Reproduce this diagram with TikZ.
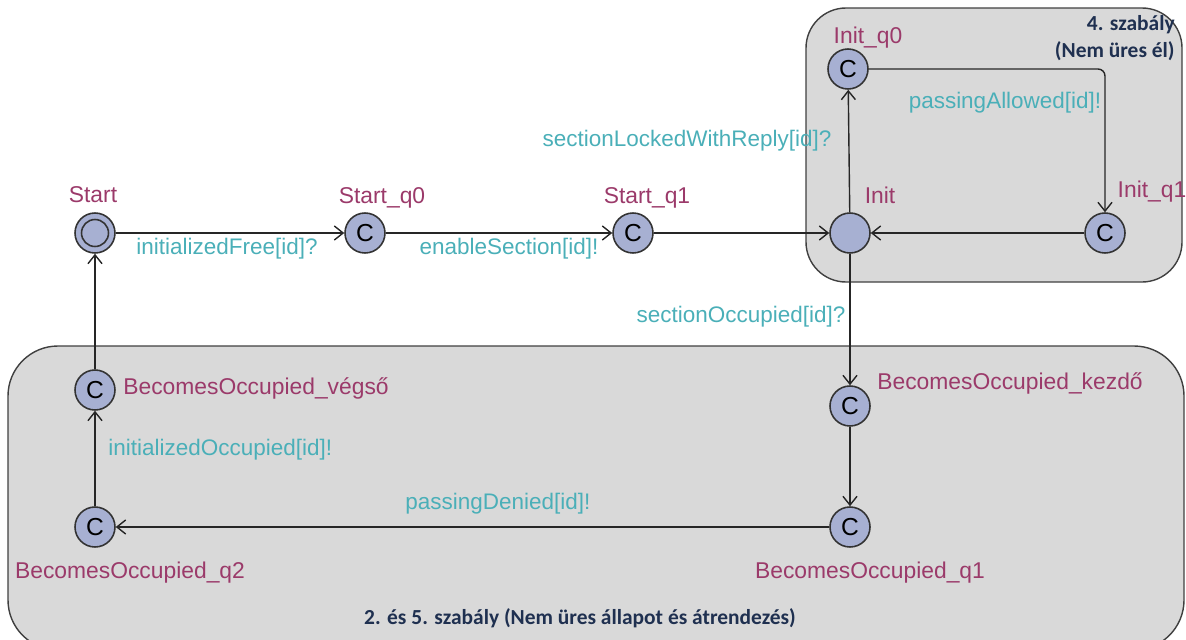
\documentclass[tikz,border=0pt]{standalone}
\usepackage{fontspec}
\setmainfont{Liberation Sans}
\newfontfamily\rulefont{Carlito}
\usetikzlibrary{arrows.meta}

\definecolor{namecol}{HTML}{9B3A6A}
\definecolor{labelcol}{HTML}{4AAFB8}
\definecolor{locfill}{HTML}{A7B0D2}
\definecolor{boxfill}{HTML}{D9D9D9}
\definecolor{rulecol}{HTML}{1F3050}

\tikzset{
  loc/.style={circle, draw=black!80, fill=locfill, line width=0.9pt,
    minimum size=0.8cm, inner sep=0pt, font=\fontsize{14}{14}\selectfont},
  locname/.style={text=namecol, inner sep=0pt, font=\fontsize{13}{15}\selectfont},
  edgelabel/.style={text=labelcol, inner sep=0pt, font=\fontsize{12.8}{15}\selectfont},
  transition/.style={draw=black!85, line width=0.8pt,
    -{Straight Barb[length=5pt,width=8pt]}},
  rulebox/.style={draw=black!75, fill=boxfill, line width=0.8pt},
  ruletext/.style={text=rulecol, inner sep=0pt, align=right,
    font=\rulefont\fontsize{12.2}{15.5}\selectfont\bfseries}
}

\begin{document}
\begin{tikzpicture}[x=0.02cm, y=-0.02cm]
    \useasboundingbox (0,0) rectangle (1186,639);

    % rule boxes
    \draw[rulebox, rounded corners=0.8cm] (806,8) rectangle (1182,282);
    \draw[rulebox, rounded corners=1cm] (8,346) rectangle (1184,650);
    \node[ruletext, anchor=north east] (rule4) at (1175,15) {4. szabály\\(Nem üres él)};
    \node[ruletext] (rule25) at (580,618) {2. és 5. szabály (Nem üres állapot és átrendezés)};

    % locations
    \node[loc] (start) at (95,233) {};
    \draw[draw=black!80, line width=0.9pt] (start) circle (0.27cm);
    \node[loc] (startq0) at (365,233) {C};
    \node[loc] (startq1) at (633,233) {C};
    \node[loc] (init) at (850,233) {};
    \node[loc] (initq0) at (848,69) {C};
    \node[loc] (initq1) at (1105,233) {C};
    \node[loc] (occstart) at (850,406) {C};
    \node[loc] (occq1) at (850,527) {C};
    \node[loc] (occq2) at (95,527) {C};
    \node[loc] (occend) at (95,390) {C};

    % names
    \node[locname] (nstart) at (93,195) {Start};
    \node[locname] (nstartq0) at (382,198) {Start\_q0};
    \node[locname] (nstartq1) at (647,198) {Start\_q1};
    \node[locname] (ninit) at (880,195) {Init};
    \node[locname] (ninitq0) at (868,38) {Init\_q0};
    \node[locname] (ninitq1) at (1152,192) {Init\_q1};
    \node[locname, anchor=west] (noccend) at (123,388) {BecomesOccupied\_végső};
    \node[locname, anchor=west] (noccstart) at (877,383) {BecomesOccupied\_kezdő};
    \node[locname] (noccq1) at (870,573) {BecomesOccupied\_q1};
    \node[locname] (noccq2) at (130,573) {BecomesOccupied\_q2};

    % transitions
    \draw[transition] (start) -- (startq0);
    \draw[transition] (startq0) -- (startq1);
    \draw[transition] (startq1) -- (init);
    \draw[transition] (init) -- (initq0);
    \draw[transition, rounded corners=4pt] (initq0) -| (initq1);
    \draw[transition] (initq1) -- (init);
    \draw[transition] (init) -- (occstart);
    \draw[transition] (occstart) -- (occq1);
    \draw[transition] (occq1) -- (occq2);
    \draw[transition] (occq2) -- (occend);
    \draw[transition] (occend) -- (start);

    % synchronisations
    \node[edgelabel] (lfree) at (227,249) {initializedFree[id]?};
    \node[edgelabel] (lenable) at (509,249) {enableSection[id]!};
    \node[edgelabel] (llocked) at (687,141) {sectionLockedWithReply[id]?};
    \node[edgelabel] (lallowed) at (1005,103) {passingAllowed[id]!};
    \node[edgelabel] (loccupied) at (741,317) {sectionOccupied[id]?};
    \node[edgelabel, anchor=west] (linitocc) at (108,450) {initializedOccupied[id]!};
    \node[edgelabel] (ldenied) at (498,504) {passingDenied[id]!};

\end{tikzpicture}
\end{document}
